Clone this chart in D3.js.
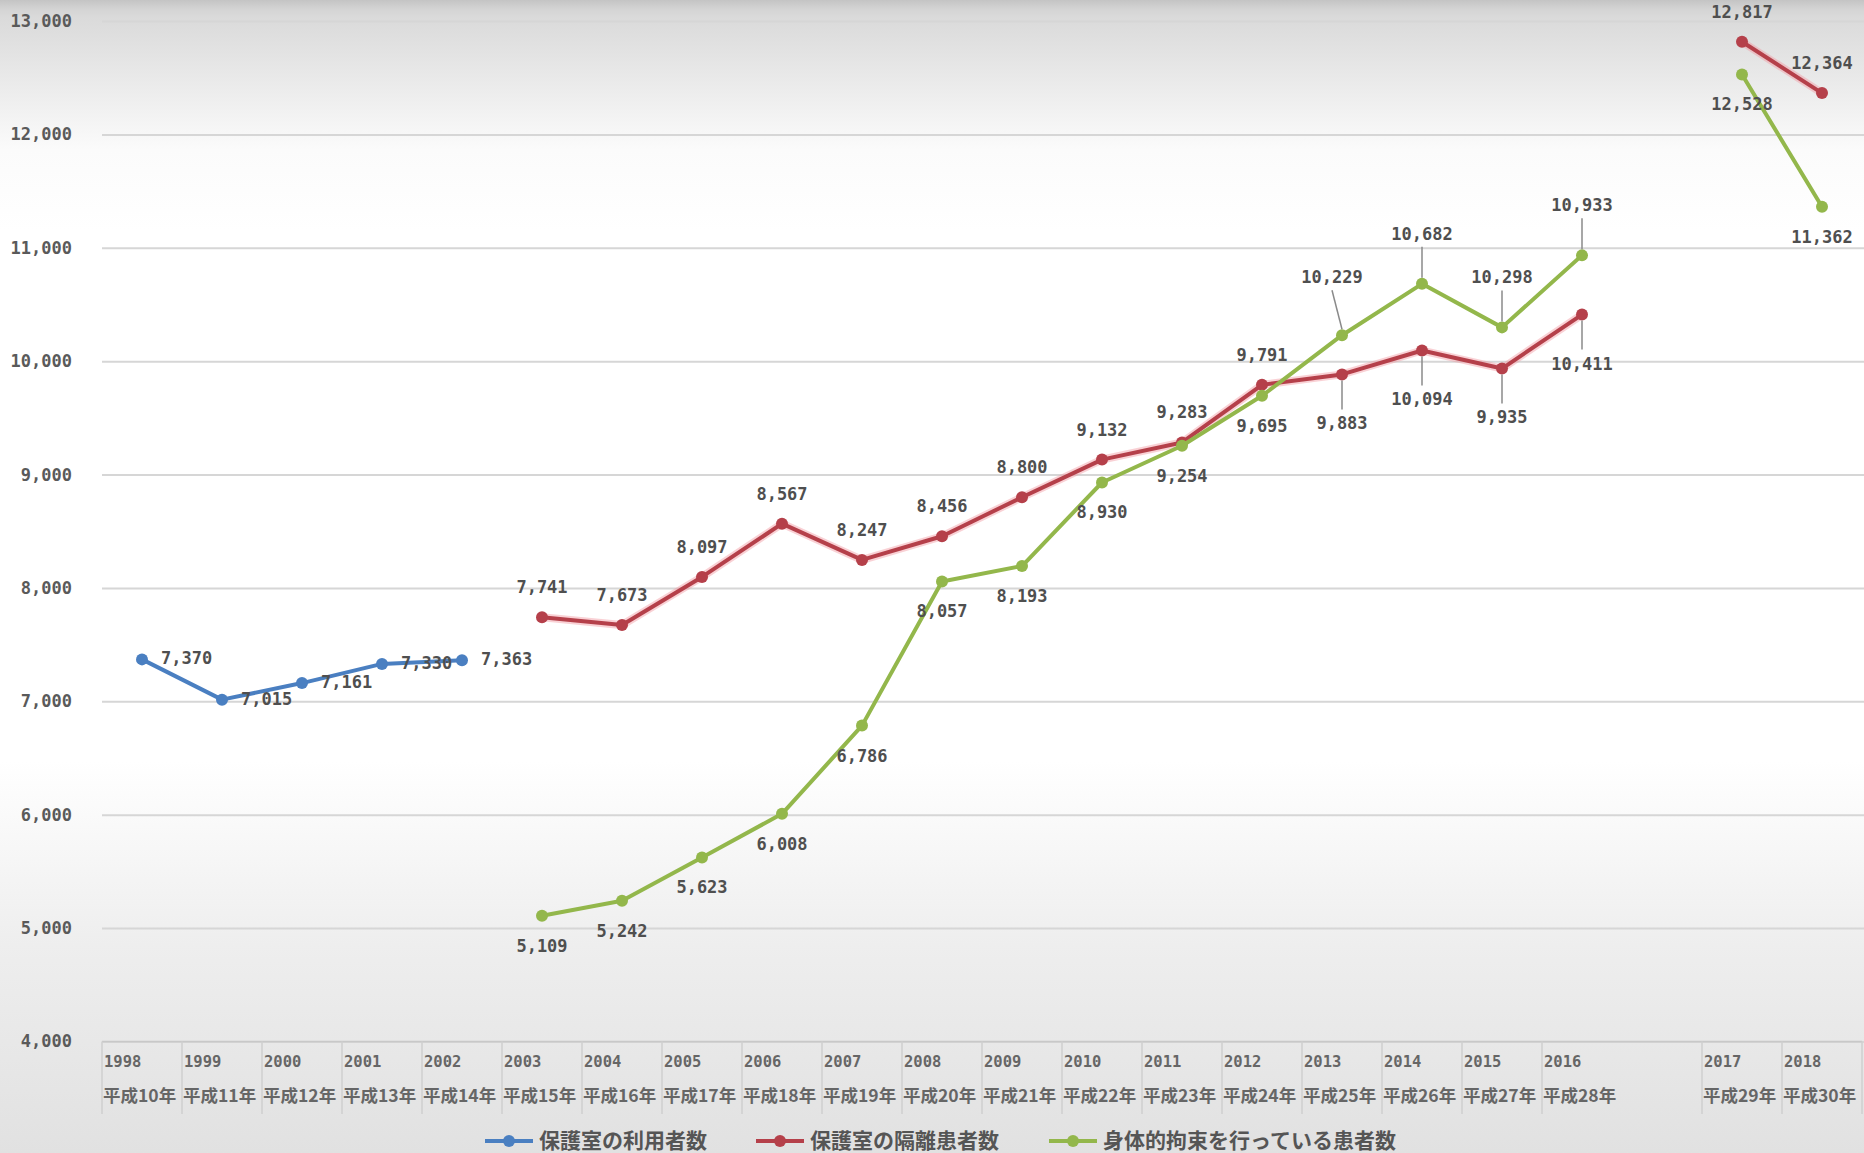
<!DOCTYPE html>
<html>
<head>
<meta charset="utf-8">
<script src="https://cdn.jsdelivr.net/npm/d3@7"></script>
<style>
  body { margin: 0; background: #fff; }
  svg { display: block; }
</style>
</head>
<body>
<svg width="1864" height="1153"></svg>
<script>
// categories (the empty one is the blank slot between 2016 and 2017)
var years = ["1998","1999","2000","2001","2002","2003","2004","2005","2006","2007","2008","2009","2010","2011","2012","2013","2014","2015","2016","","2017","2018"]
var eras = ["平成10年","平成11年","平成12年","平成13年","平成14年","平成15年","平成16年","平成17年","平成18年","平成19年","平成20年","平成21年","平成22年","平成23年","平成24年","平成25年","平成26年","平成27年","平成28年","","平成29年","平成30年"]

// series values
var useCount = [7370,7015,7161,7330,7363,null,null,null,null,null,null,null,null,null,null,null,null,null,null,null,null,null]
var isolation = [null,null,null,null,null,7741,7673,8097,8567,8247,8456,8800,9132,9283,9791,9883,10094,9935,10411,null,12817,12364]
var restraint = [null,null,null,null,null,5109,5242,5623,6008,6786,8057,8193,8930,9254,9695,10229,10682,10298,10933,null,12528,11362]

var seriesNames = ["保護室の利用者数","保護室の隔離患者数","身体的拘束を行っている患者数"]
var yTicks = [4000,5000,6000,7000,8000,9000,10000,11000,12000,13000]

// where each value label sits: r = right, t = above, b = below, tl/bl = with leader line
var useLabelPos = ["r","r","r","r","r"]
var isoLabelPos = {2013:"bl",2014:"bl",2015:"bl",2016:"bl"}
var resLabelPos = {2013:"tlw",2014:"tl",2015:"tl",2016:"tl"}

var colors = ["#4a7fc1", "#b5404a", "#93b74b"]

var svg = d3.select("svg")
var W = 1864, H = 1153
var plotLeft = 102, plotRight = 1862
var plotTop = 21, plotBottom = 1041.5

// background
var defs = svg.append("defs")
var grad = defs.append("linearGradient").attr("id","bg").attr("x1",0).attr("y1",0).attr("x2",0).attr("y2",1)
;[[0,"#c4c4c4"],[0.008,"#d4d4d4"],[0.015,"#dadada"],[0.13,"#fbfbfb"],[0.2,"#ffffff"],[0.66,"#ffffff"],[0.82,"#eeeeee"],[1,"#e1e1e1"]].forEach(function(s) {
    grad.append("stop").attr("offset", s[0]).attr("stop-color", s[1])
})
svg.append("rect").attr("width",W).attr("height",H).attr("fill","url(#bg)")

var x = d3.scaleBand().domain(years).range([plotLeft, plotRight])
var y = d3.scaleLinear().domain([4000,13000]).range([plotBottom, plotTop])

// grid lines
svg.append("g")
    .attr("transform","translate(" + plotLeft + ",0)")
    .call(d3.axisLeft(y).tickValues(yTicks).tickSize(-(W - plotLeft)).tickFormat(""))
    .call(function(g) {
        g.select(".domain").remove()
        g.selectAll("line").attr("stroke","#d6d6d6").attr("stroke-width",2)
    })

// y labels
svg.append("g")
    .attr("transform","translate(72,0)")
    .call(d3.axisLeft(y).tickValues(yTicks).tickSize(0).tickPadding(0).tickFormat(d3.format(",")))
    .call(function(g) {
        g.select(".domain").remove()
        g.selectAll("text")
            .attr("font-family","DejaVu Sans Mono")
            .attr("font-weight","bold")
            .attr("font-size",17)
            .attr("fill","#5a5a5a")
    })

// category table under the plot
var cat = svg.append("g")
cat.append("line").attr("x1",plotLeft).attr("x2",plotRight).attr("y1",plotBottom).attr("y2",plotBottom)
    .attr("stroke","#c8c8c8").attr("stroke-width",1.5)
years.forEach(function(yr, i) {
    if (yr === "") return
    var x0 = x(yr)
    cat.append("line").attr("x1",x0).attr("x2",x0).attr("y1",plotBottom).attr("y2",1114)
        .attr("stroke","#cfcfcf").attr("stroke-width",1.5)
    cat.append("text").attr("x",x0 + 2).attr("y",1062).attr("dy","0.35em")
        .attr("font-family","DejaVu Sans Mono").attr("font-size",15.5).attr("font-weight","bold")
        .attr("fill","#666").text(yr)
    cat.append("text").attr("x",x0 + 1).attr("y",1096).attr("dy","0.35em")
        .attr("font-family","Noto Sans CJK JP").attr("font-size",17.5).attr("font-weight","bold")
        .attr("fill","#666").text(eras[i])
})
cat.append("line").attr("x1",plotRight).attr("x2",plotRight).attr("y1",plotBottom).attr("y2",1114)
    .attr("stroke","#cfcfcf").attr("stroke-width",1.5)

// lines
var cx = function(i) { return x(years[i]) + x.bandwidth() / 2 }
var line = d3.line()
    .defined(function(d) { return d != null })
    .x(function(d, i) { return cx(i) })
    .y(function(d) { return y(d) })

var allSeries = [useCount, isolation, restraint]

// soft halo behind the red line
svg.append("path").attr("d", line(isolation)).attr("fill","none")
    .attr("stroke","#f19aa2").attr("stroke-width",8).attr("stroke-opacity",0.45)

allSeries.forEach(function(vals, s) {
    var g = svg.append("g")
    g.append("path").attr("d", line(vals)).attr("fill","none")
        .attr("stroke", colors[s]).attr("stroke-width",4).attr("stroke-linejoin","round")
    g.selectAll("circle")
        .data(vals.map(function(v, i) { return {v: v, i: i} }).filter(function(d) { return d.v != null }))
        .enter().append("circle")
        .attr("cx", function(d) { return cx(d.i) })
        .attr("cy", function(d) { return y(d.v) })
        .attr("r", 6)
        .attr("fill", colors[s])
})

// value labels
var fmt = d3.format(",")
var labels = svg.append("g")
function addLabel(i, v, pos) {
    var px = cx(i), py = y(v), tx = px, ty = py, anchor = "middle"
    if (pos === "r") { tx = px + 19; ty = py - 1; anchor = "start" }
    else if (pos === "t") { ty = py - 30 }
    else if (pos === "b") { ty = py + 30 }
    else if (pos === "bl") {
        ty = py + 49
        labels.append("line").attr("x1",px).attr("x2",px).attr("y1",py + 6).attr("y2",ty - 14)
            .attr("stroke","#8a8a8a").attr("stroke-width",1.5)
    }
    else if (pos === "tl" || pos === "tlw") {
        ty = py - 50
        if (pos === "tlw") { tx = px - 10; ty = py - 58 }
        labels.append("line").attr("x1",px).attr("x2",tx).attr("y1",py - 6).attr("y2",ty + 13)
            .attr("stroke","#8a8a8a").attr("stroke-width",1.5)
    }
    labels.append("text").attr("x",tx).attr("y",ty).attr("dy","0.35em")
        .attr("text-anchor",anchor)
        .attr("font-family","DejaVu Sans Mono").attr("font-weight","bold").attr("font-size",17)
        .attr("fill","#4f4f4f").text(fmt(v))
}
useCount.forEach(function(v, i) { if (v != null) addLabel(i, v, useLabelPos[i]) })
isolation.forEach(function(v, i) { if (v != null) addLabel(i, v, isoLabelPos[years[i]] || "t") })
restraint.forEach(function(v, i) { if (v != null) addLabel(i, v, resLabelPos[years[i]] || "b") })

// legend
var legendX = [485, 756, 1049]
var legend = svg.append("g").attr("transform","translate(0,1141)")
seriesNames.forEach(function(name, s) {
    var g = legend.append("g").attr("transform","translate(" + legendX[s] + ",0)")
    g.append("line").attr("x1",0).attr("x2",48).attr("y1",0).attr("y2",0)
        .attr("stroke",colors[s]).attr("stroke-width",4)
    g.append("circle").attr("cx",24).attr("cy",0).attr("r",6).attr("fill",colors[s])
    g.append("text").attr("x",54).attr("y",0).attr("dy","0.35em")
        .attr("font-family","Noto Sans CJK JP").attr("font-size",21).attr("font-weight","bold")
        .attr("fill","#555").text(name)
})
</script>
</body>
</html>
